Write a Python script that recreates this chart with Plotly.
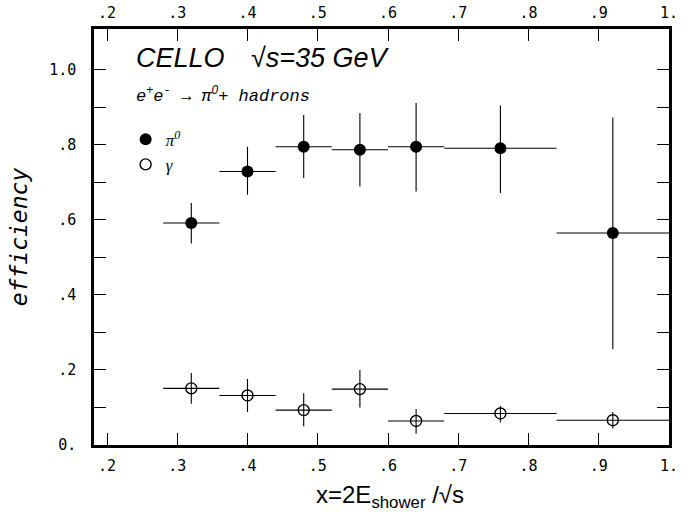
import plotly.graph_objects as go

# ---- data ----
x_center = [0.32, 0.40, 0.48, 0.56, 0.64, 0.76, 0.92]
x_low = [0.28, 0.36, 0.44, 0.52, 0.60, 0.68, 0.84]
x_high = [0.36, 0.44, 0.52, 0.60, 0.68, 0.84, 1.00]

pi0_eff = [0.592, 0.729, 0.795, 0.787, 0.795, 0.791, 0.565]
pi0_upper = [0.645, 0.795, 0.880, 0.885, 0.912, 0.905, 0.873]
pi0_lower = [0.537, 0.667, 0.712, 0.689, 0.676, 0.672, 0.255]

gam_eff = [0.151, 0.132, 0.093, 0.149, 0.064, 0.084, 0.066]
gam_upper = [0.192, 0.176, 0.138, 0.200, 0.096, 0.104, 0.088]
gam_lower = [0.110, 0.088, 0.050, 0.100, 0.030, 0.060, 0.044]

x_tickvals = [0.2, 0.3, 0.4, 0.5, 0.6, 0.7, 0.8, 0.9, 1.0]
x_ticktext = [".2", ".3", ".4", ".5", ".6", ".7", ".8", ".9", "1."]
y_tickvals = [0.0, 0.1, 0.2, 0.3, 0.4, 0.5, 0.6, 0.7, 0.8, 0.9, 1.0]
y_ticktext = ["0.", "", ".2", "", ".4", "", ".6", "", ".8", "", "1.0"]

x_range = [0.1815, 1.0]
y_range = [0.0, 1.109]

x_title = "x=2E<sub>shower</sub> /√s"
y_title = "<i>efficiency</i>"

# ---- derived error arrays ----
ex_plus = [h - c for h, c in zip(x_high, x_center)]
ex_minus = [c - l for c, l in zip(x_center, x_low)]
pi_plus = [u - v for u, v in zip(pi0_upper, pi0_eff)]
pi_minus = [v - d for v, d in zip(pi0_eff, pi0_lower)]
g_plus = [u - v for u, v in zip(gam_upper, gam_eff)]
g_minus = [v - d for v, d in zip(gam_eff, gam_lower)]

tick_font = dict(family="DejaVu Sans Mono", size=15, color="black")

fig = go.Figure()

fig.add_trace(go.Scatter(
    x=x_center, y=pi0_eff, mode="markers", name="<i>π<sup>0</sup></i>",
    marker=dict(symbol="circle", size=12, color="black"),
    error_x=dict(type="data", symmetric=False, array=ex_plus, arrayminus=ex_minus,
                 width=0, thickness=1.1, color="black"),
    error_y=dict(type="data", symmetric=False, array=pi_plus, arrayminus=pi_minus,
                 width=0, thickness=1.1, color="black"),
))
fig.add_trace(go.Scatter(
    x=x_center, y=gam_eff, mode="markers", name="<i>γ</i>",
    marker=dict(symbol="circle-open", size=11, color="black", line=dict(width=1.4, color="black")),
    error_x=dict(type="data", symmetric=False, array=ex_plus, arrayminus=ex_minus,
                 width=0, thickness=1.1, color="black"),
    error_y=dict(type="data", symmetric=False, array=g_plus, arrayminus=g_minus,
                 width=0, thickness=1.1, color="black"),
))
# invisible trace to carry the top axis
fig.add_trace(go.Scatter(x=[x_range[0]], y=[0], xaxis="x2", mode="markers",
                         marker=dict(opacity=0), showlegend=False, hoverinfo="skip"))

fig.update_layout(
    width=699, height=515,
    margin=dict(l=94, r=30, t=29, b=70, autoexpand=False),
    paper_bgcolor="white", plot_bgcolor="white",
    showlegend=True,
    legend=dict(x=0.055, y=0.777, xanchor="left", yanchor="top",
                font=dict(family="Liberation Serif", size=17, color="black"),
                bgcolor="rgba(0,0,0,0)", itemwidth=30, tracegroupgap=0),
    xaxis=dict(range=x_range, tickvals=x_tickvals, ticktext=x_ticktext, automargin=False,
               ticks="inside", ticklen=12, tickwidth=1.2, tickcolor="black",
               showline=True, linewidth=2.5, linecolor="black", mirror="ticks",
               showgrid=False, zeroline=False, tickfont=tick_font,
               ticklabelstandoff=5),
    xaxis2=dict(range=x_range, overlaying="x", side="top", tickvals=x_tickvals, automargin=False,
                ticktext=x_ticktext, ticks="", showline=False, showgrid=False,
                zeroline=False, tickfont=tick_font, ticklabelstandoff=7),
    yaxis=dict(range=y_range, tickvals=y_tickvals, ticktext=y_ticktext, automargin=False,
               ticks="inside", ticklen=12, tickwidth=1.2, tickcolor="black",
               showline=True, linewidth=2.5, linecolor="black", mirror="ticks",
               showgrid=False, zeroline=False, tickfont=tick_font,
               ticklabelstandoff=12,
               title=dict(text=y_title, standoff=16,
                          font=dict(family="DejaVu Sans Mono", size=23, color="black"))),
)

# x-axis title placed as paper annotation below the tick labels
fig.add_annotation(xref="paper", yref="paper", x=0.515, y=-0.124, xanchor="center", yanchor="middle",
                   text=x_title, showarrow=False,
                   font=dict(family="Liberation Sans", size=24, color="black"))

fig.add_annotation(xref="paper", yref="paper", x=0.070, y=0.93, xanchor="left", yanchor="middle",
                   text="<i>CELLO</i>", showarrow=False,
                   font=dict(family="Liberation Sans", size=27, color="black"))
fig.add_annotation(xref="paper", yref="paper", x=0.270, y=0.93, xanchor="left", yanchor="middle",
                   text="<i>√s=35 GeV</i>", showarrow=False,
                   font=dict(family="Liberation Sans", size=27, color="black"))
fig.add_annotation(xref="paper", yref="paper", x=0.070, y=0.842, xanchor="left", yanchor="middle",
                   text=("<i>e<sup>+</sup>e<sup>-</sup> → π"
                         "<sup><span style='font-family:Liberation Sans'>0</span></sup>+ hadrons</i>"),
                   showarrow=False,
                   font=dict(family="Liberation Mono", size=17, color="black"))

fig.write_html("out.html")
